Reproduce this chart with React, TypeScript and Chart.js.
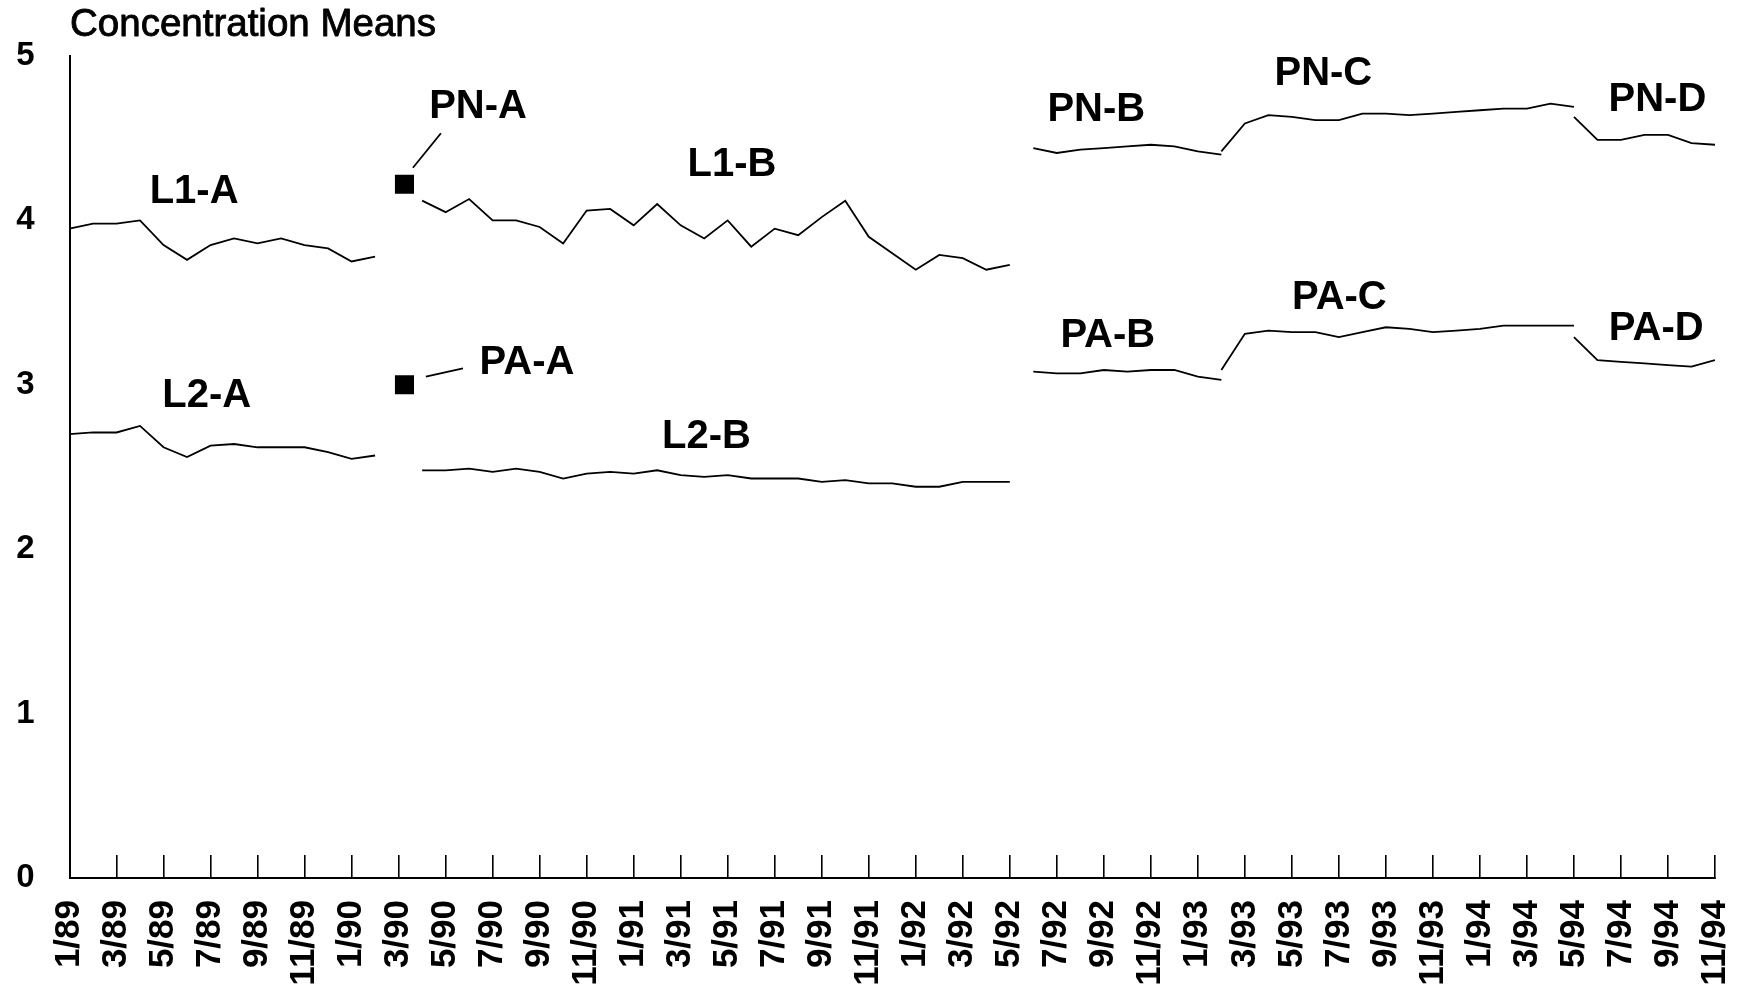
import { useEffect, useRef } from 'react';
import { Chart, registerables } from 'chart.js';

Chart.register(...registerables);

// x axis: month index 0 = 1/89 ... 70 = 11/94 ; labels every two months
const tickLabels = [
  '1/89', '3/89', '5/89', '7/89', '9/89', '11/89',
  '1/90', '3/90', '5/90', '7/90', '9/90', '11/90',
  '1/91', '3/91', '5/91', '7/91', '9/91', '11/91',
  '1/92', '3/92', '5/92', '7/92', '9/92', '11/92',
  '1/93', '3/93', '5/93', '7/93', '9/93', '11/93',
  '1/94', '3/94', '5/94', '7/94', '9/94', '11/94',
];

const yTicks = [0, 1, 2, 3, 4, 5];

// series: first month index + monthly values
const L1A_start = 0;
const L1A = [3.95, 3.98, 3.98, 4.0, 3.85, 3.76, 3.85, 3.89, 3.86, 3.89, 3.85, 3.83, 3.75, 3.78];
const L2A_start = 0;
const L2A = [2.7, 2.71, 2.71, 2.75, 2.62, 2.56, 2.63, 2.64, 2.62, 2.62, 2.62, 2.59, 2.55, 2.57];

const PNA_month = 14.25;
const PNA = 4.22;
const PAA_month = 14.25;
const PAA = 3.0;

const L1B_start = 15;
const L1B = [
  4.12, 4.05, 4.13, 4.0, 4.0, 3.96, 3.86, 4.06, 4.07, 3.97, 4.1, 3.97, 3.89,
  4.0, 3.84, 3.95, 3.91, 4.02, 4.12, 3.9, 3.8, 3.7, 3.79, 3.77, 3.7, 3.73,
];
const L2B_start = 15;
const L2B = [
  2.48, 2.48, 2.49, 2.47, 2.49, 2.47, 2.43, 2.46, 2.47, 2.46, 2.48, 2.45, 2.44,
  2.45, 2.43, 2.43, 2.43, 2.41, 2.42, 2.4, 2.4, 2.38, 2.38, 2.41, 2.41, 2.41,
];

const PNB_start = 41;
const PNB = [4.44, 4.41, 4.43, 4.44, 4.45, 4.46, 4.45, 4.42, 4.4];
const PNC_start = 49;
const PNC = [4.42, 4.59, 4.64, 4.63, 4.61, 4.61, 4.65, 4.65, 4.64, 4.65, 4.66, 4.67, 4.68, 4.68, 4.71, 4.69];
const PND_start = 64;
const PND = [4.63, 4.49, 4.49, 4.52, 4.52, 4.47, 4.46];

const PAB_start = 41;
const PAB = [3.08, 3.07, 3.07, 3.09, 3.08, 3.09, 3.09, 3.05, 3.03];
const PAC_start = 49;
const PAC = [3.09, 3.31, 3.33, 3.32, 3.32, 3.29, 3.32, 3.35, 3.34, 3.32, 3.33, 3.34, 3.36, 3.36, 3.36, 3.36];
const PAD_start = 64;
const PAD = [3.29, 3.15, 3.14, 3.13, 3.12, 3.11, 3.15];

// series labels placed in data coordinates (month, value)
const seriesLabels = [
  { text: 'L1-A', m: 5.3, v: 4.19 },
  { text: 'L2-A', m: 5.84, v: 2.95 },
  { text: 'PN-A', m: 17.38, v: 4.71 },
  { text: 'PA-A', m: 19.46, v: 3.15 },
  { text: 'L1-B', m: 28.18, v: 4.36 },
  { text: 'L2-B', m: 27.1, v: 2.7 },
  { text: 'PN-B', m: 43.68, v: 4.69 },
  { text: 'PN-C', m: 53.34, v: 4.91 },
  { text: 'PN-D', m: 67.55, v: 4.75 },
  { text: 'PA-B', m: 44.17, v: 3.32 },
  { text: 'PA-C', m: 54.02, v: 3.55 },
  { text: 'PA-D', m: 67.5, v: 3.36 },
];
const leaderLines = [
  { m1: 15.8, v1: 4.53, m2: 14.61, v2: 4.32 },
  { m1: 15.16, v1: 3.05, m2: 16.74, v2: 3.1 },
];

const TITLE = 'Concentration Means';
const FONT = '"Liberation Sans", Arial, Helvetica, sans-serif';
const NARROW = '"Liberation Sans Narrow", "Arial Narrow", "Liberation Sans", Arial, sans-serif';

const toPoints = (start: number, vals: number[]) => vals.map((v, k) => ({ x: start + k, y: v }));

const lineSet = (label: string, start: number, vals: number[]) => ({
  label,
  data: toPoints(start, vals),
  borderColor: '#000',
  borderWidth: 1.8,
  pointRadius: 0,
  pointHoverRadius: 0,
  fill: false,
  tension: 0,
});

const markerSet = (label: string, m: number, v: number) => ({
  label,
  data: [{ x: m, y: v }],
  showLine: false,
  pointStyle: 'rect',
  pointRadius: 13.5,
  pointBackgroundColor: '#000',
  pointBorderColor: '#000',
  pointBorderWidth: 0,
});

const textPlugin = {
  id: 'textPlugin',
  afterDraw(chart: any) {
    const { ctx, scales } = chart;
    const xs = scales.x;
    const ys = scales.y;
    ctx.save();
    ctx.fillStyle = '#000';
    ctx.strokeStyle = '#000';
    // title (regular weight, slightly emboldened)
    ctx.font = `38.5px ${FONT}`;
    ctx.textAlign = 'left';
    ctx.textBaseline = 'alphabetic';
    ctx.lineWidth = 0.9;
    ctx.lineJoin = 'round';
    ctx.fillText(TITLE, 70, 36);
    ctx.strokeText(TITLE, 70, 36);
    // series labels
    const fs = 40;
    ctx.font = `bold ${fs}px ${FONT}`;
    ctx.textAlign = 'center';
    for (const l of seriesLabels) {
      const px = xs.getPixelForValue(l.m);
      const py = ys.getPixelForValue(l.v);
      ctx.fillText(l.text, px, py + fs * 0.358);
    }
    // leader lines
    ctx.lineWidth = 1.8;
    for (const ln of leaderLines) {
      ctx.beginPath();
      ctx.moveTo(xs.getPixelForValue(ln.m1), ys.getPixelForValue(ln.v1));
      ctx.lineTo(xs.getPixelForValue(ln.m2), ys.getPixelForValue(ln.v2));
      ctx.stroke();
    }
    ctx.restore();
  },
};

export default function App() {
  const ref = useRef<HTMLCanvasElement>(null);
  useEffect(() => {
    document.body.style.margin = '0';
    const canvas = ref.current as HTMLCanvasElement;
    const chart = new Chart(canvas, {
      type: 'line',
      data: {
        datasets: [
          lineSet('L1-A', L1A_start, L1A),
          lineSet('L2-A', L2A_start, L2A),
          markerSet('PN-A', PNA_month, PNA),
          markerSet('PA-A', PAA_month, PAA),
          lineSet('L1-B', L1B_start, L1B),
          lineSet('L2-B', L2B_start, L2B),
          lineSet('PN-B', PNB_start, PNB),
          lineSet('PN-C', PNC_start, PNC),
          lineSet('PN-D', PND_start, PND),
          lineSet('PA-B', PAB_start, PAB),
          lineSet('PA-C', PAC_start, PAC),
          lineSet('PA-D', PAD_start, PAD),
        ] as any,
      },
      options: {
        responsive: false,
        animation: false,
        devicePixelRatio: 1,
        layout: { padding: { top: 56, right: 23, left: 0, bottom: 0 } },
        plugins: {
          legend: { display: false },
          tooltip: { enabled: false },
          title: { display: false },
        },
        scales: {
          x: {
            type: 'linear',
            position: 'bottom',
            min: 0,
            max: 70,
            afterFit: (s: any) => {
              s.height = 114;
              s.paddingLeft = 0;
              s.paddingRight = 0;
            },
            grid: {
              display: true,
              drawOnChartArea: false,
              drawTicks: true,
              tickLength: -23,
              color: '#000',
              lineWidth: 1.6,
            },
            border: { display: true, color: '#000', width: 2 },
            ticks: {
              stepSize: 2,
              autoSkip: false,
              maxRotation: 90,
              minRotation: 90,
              padding: 45,
              color: '#000',
              font: { family: NARROW, size: 35, weight: 'bold' },
              callback: (v: any) => tickLabels[Math.round(Number(v) / 2)] ?? '',
            },
          },
          y: {
            min: yTicks[0],
            max: yTicks[yTicks.length - 1],
            afterFit: (s: any) => {
              s.width = 69.5;
            },
            grid: { display: false, drawTicks: false },
            border: { display: true, color: '#000', width: 2 },
            ticks: {
              stepSize: 1,
              padding: 35,
              color: '#000',
              font: { family: FONT, size: 33, weight: 'bold' },
            },
          },
        },
      } as any,
      plugins: [textPlugin],
    });
    return () => chart.destroy();
  }, []);
  return (
    <canvas
      ref={ref}
      width={1738}
      height={992}
      style={{ display: 'block', width: '1738px', height: '992px' }}
    />
  );
}
